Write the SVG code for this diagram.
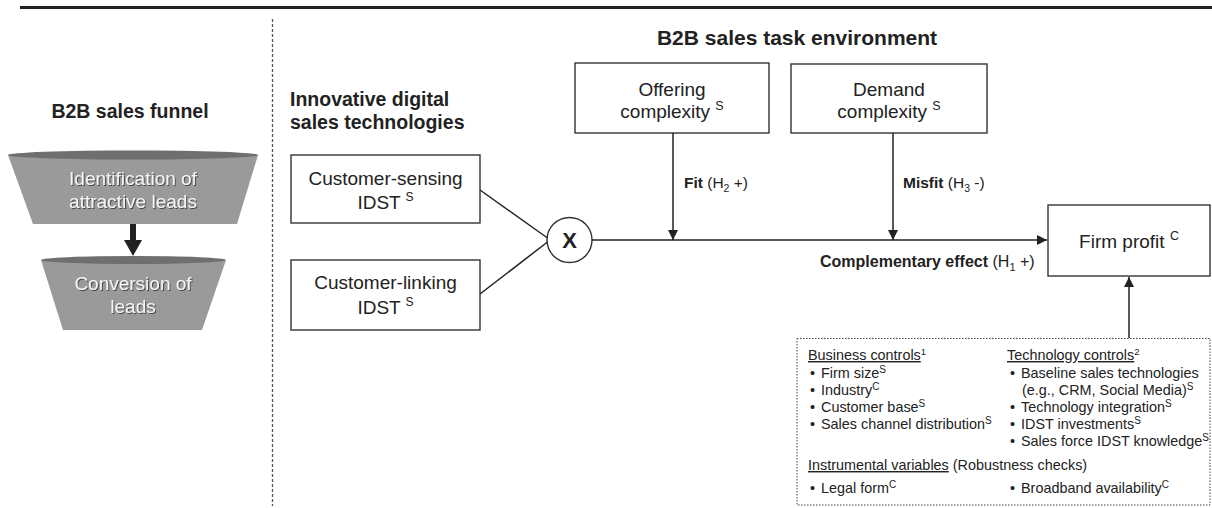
<svg xmlns="http://www.w3.org/2000/svg" width="1212" height="508" viewBox="0 0 1212 508">
<defs>
<style>
text{font-family:"Liberation Sans",Arial,sans-serif;fill:#222}
.b{font-weight:bold}
.h{font-size:19.5px;font-weight:bold}
.n{font-size:19px}
.lb{font-size:15.5px}
.c{font-size:14.4px}
.ft{font-size:19px;fill:#f4f4f4}
.box{fill:#fff;stroke:#333;stroke-width:1.4}
.ln{fill:none;stroke:#222;stroke-width:1.5}
.fun{fill:#9a9a9a}
.rim{fill:#6f6f6f}
</style>
<marker id="ah" viewBox="0 0 10 10" refX="10" refY="5" markerWidth="10" markerHeight="10" markerUnits="userSpaceOnUse" orient="auto">
<path d="M0,0 L10,5 L0,10 z" fill="#222"/>
</marker>
<filter id="sh" x="-10%" y="-30%" width="120%" height="160%">
<feDropShadow dx="1" dy="1" stdDeviation="0.6" flood-color="#333" flood-opacity="0.8"/>
</filter>
</defs>
<line x1="20" y1="7.5" x2="1212" y2="7.5" stroke="#222" stroke-width="3"/>
<line x1="272.5" y1="19" x2="272.5" y2="506" stroke="#555" stroke-width="1.3" stroke-dasharray="3,2"/>

<g id="funnel-title"><text class="h" x="130" y="118" text-anchor="middle">B2B sales funnel</text></g>
<g id="funnel-1">
<polygon class="fun" points="8,155 258,155 237,224 33,224"/>
<ellipse class="rim" cx="133" cy="155" rx="125" ry="4.5"/>
<g filter="url(#sh)">
<text class="ft" x="133" y="185" text-anchor="middle">Identification of</text>
<text class="ft" x="133" y="208" text-anchor="middle">attractive leads</text>
</g>
</g>
<g id="funnel-arrow">
<rect x="130" y="224" width="6" height="17" fill="#222"/>
<polygon points="124,240 142,240 133,256" fill="#222"/>
</g>
<g id="funnel-2">
<polygon class="fun" points="41,260 226,260 202,330 63,330"/>
<ellipse class="rim" cx="133.5" cy="260" rx="92.5" ry="4"/>
<g filter="url(#sh)">
<text class="ft" x="133" y="290" text-anchor="middle">Conversion of</text>
<text class="ft" x="133" y="313" text-anchor="middle">leads</text>
</g>
</g>

<g id="idst-title">
<text class="h" x="290" y="106" font-size="20">Innovative digital</text>
<text class="h" x="290" y="129" font-size="20">sales technologies</text>
</g>
<g id="env-title"><text class="h" x="797" y="45" text-anchor="middle" style="font-size:21px">B2B sales task environment</text></g>

<g id="sensing">
<rect class="box" x="291" y="155" width="189" height="68"/>
<text class="n" x="385.5" y="185" text-anchor="middle">Customer-sensing</text>
<text class="n" x="385.5" y="209" text-anchor="middle">IDST <tspan font-size="12" dy="-8">S</tspan></text>
</g>
<g id="linking">
<rect class="box" x="291" y="260" width="189" height="70"/>
<text class="n" x="385.5" y="289" text-anchor="middle">Customer-linking</text>
<text class="n" x="385.5" y="314" text-anchor="middle">IDST <tspan font-size="12" dy="-8">S</tspan></text>
</g>
<g id="interaction">
<circle cx="569.5" cy="240" r="22.5" fill="#fff" stroke="#333" stroke-width="1.4"/>
<text x="569.5" y="248" text-anchor="middle" class="b" font-size="22">X</text>
</g>
<g id="offering">
<rect class="box" x="575" y="63" width="194" height="70"/>
<text class="n" x="672" y="96" text-anchor="middle">Offering</text>
<text class="n" x="672" y="118" text-anchor="middle">complexity <tspan font-size="12.5" dy="-8">S</tspan></text>
</g>
<g id="demand">
<rect class="box" x="791" y="64" width="196" height="69"/>
<text class="n" x="889" y="96" text-anchor="middle">Demand</text>
<text class="n" x="889" y="118" text-anchor="middle">complexity <tspan font-size="12.5" dy="-8">S</tspan></text>
</g>
<g id="profit">
<rect class="box" x="1048" y="205" width="162" height="71"/>
<text class="n" x="1129" y="248" text-anchor="middle">Firm profit <tspan font-size="12.5" dy="-8">C</tspan></text>
</g>

<g id="connectors">
<line class="ln" x1="480" y1="190" x2="547.5" y2="238"/>
<line class="ln" x1="480" y1="294" x2="547.5" y2="242"/>
<line class="ln" x1="592" y1="240" x2="1047" y2="240" marker-end="url(#ah)"/>
<line class="ln" x1="673" y1="133" x2="673" y2="240" marker-end="url(#ah)"/>
<line class="ln" x1="893" y1="133" x2="893" y2="240" marker-end="url(#ah)"/>
<line class="ln" x1="1129" y1="338" x2="1129" y2="277" marker-end="url(#ah)"/>
</g>
<g id="labels">
<text class="lb" x="684" y="188"><tspan class="b">Fit</tspan> (H<tspan font-size="10.5" dy="4">2</tspan><tspan dy="-4"> +)</tspan></text>
<text class="lb" x="903" y="188"><tspan class="b">Misfit</tspan> (H<tspan font-size="10.5" dy="4">3</tspan><tspan dy="-4"> -)</tspan></text>
<text class="lb" x="820" y="267" style="font-size:16px"><tspan class="b">Complementary effect</tspan> (H<tspan font-size="11" dy="4">1</tspan><tspan dy="-4"> +)</tspan></text>
</g>

<g id="controls">
<rect x="797" y="338.5" width="413" height="166.5" fill="#fff" stroke="#444" stroke-width="1" stroke-dasharray="1.5,1.5"/>
<text class="c" x="808" y="360"><tspan text-decoration="underline">Business controls</tspan><tspan font-size="9.5" dy="-5">1</tspan></text>
<text class="c" x="810" y="378">•</text><text class="c" x="821" y="378">Firm size<tspan font-size="10" dy="-5">S</tspan></text>
<text class="c" x="810" y="395">•</text><text class="c" x="821" y="395">Industry<tspan font-size="10" dy="-5">C</tspan></text>
<text class="c" x="810" y="412">•</text><text class="c" x="821" y="412">Customer base<tspan font-size="10" dy="-5">S</tspan></text>
<text class="c" x="810" y="429">•</text><text class="c" x="821" y="429">Sales channel distribution<tspan font-size="10" dy="-5">S</tspan></text>
<text class="c" x="1007" y="360"><tspan text-decoration="underline">Technology controls</tspan><tspan font-size="9.5" dy="-5">2</tspan></text>
<text class="c" x="1010" y="378">•</text><text class="c" x="1021" y="378">Baseline sales technologies</text>
<text class="c" x="1022" y="395">(e.g., CRM, Social Media)<tspan font-size="10" dy="-5">S</tspan></text>
<text class="c" x="1010" y="412">•</text><text class="c" x="1021" y="412">Technology integration<tspan font-size="10" dy="-5">S</tspan></text>
<text class="c" x="1010" y="429">•</text><text class="c" x="1021" y="429">IDST investments<tspan font-size="10" dy="-5">S</tspan></text>
<text class="c" x="1010" y="446">•</text><text class="c" x="1021" y="446">Sales force IDST knowledge<tspan font-size="10" dy="-5">S</tspan></text>
<text class="c" x="808" y="470"><tspan text-decoration="underline">Instrumental variables</tspan> (Robustness checks)</text>
<text class="c" x="810" y="493">•</text><text class="c" x="821" y="493">Legal form<tspan font-size="10" dy="-5">C</tspan></text>
<text class="c" x="1010" y="493">•</text><text class="c" x="1021" y="493">Broadband availability<tspan font-size="10" dy="-5">C</tspan></text>
</g>
</svg>
